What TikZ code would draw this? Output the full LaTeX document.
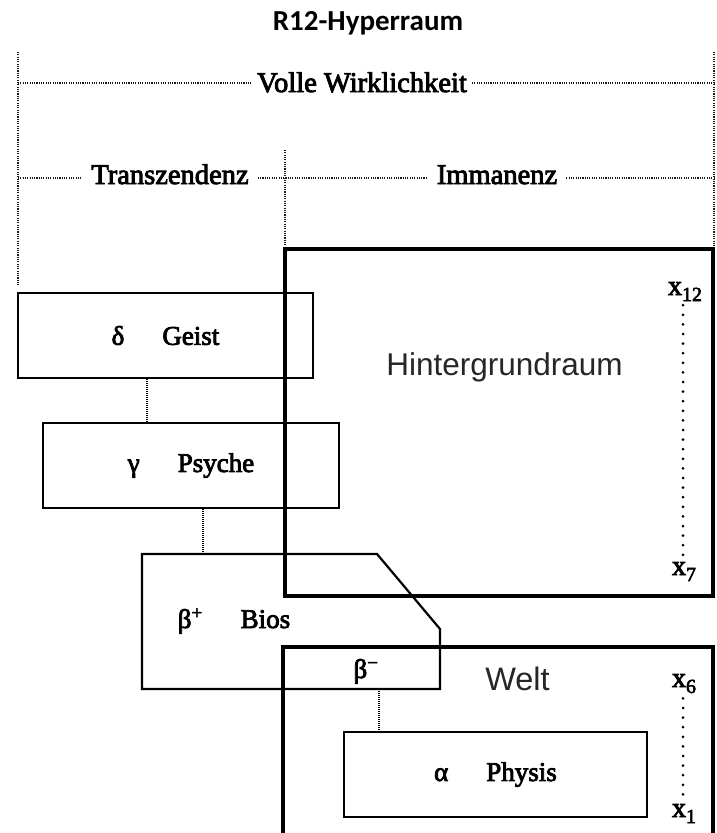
\documentclass[tikz,border=0pt]{standalone}
\usepackage{fontspec}
\setmainfont{Liberation Serif}
\newfontfamily\lbl{Liberation Serif}[FakeBold=3]
\newfontfamily\headfont{Carlito}
\newfontfamily\spacefont{Liberation Sans}
\newcommand{\gapsp}{\hspace{38pt}}
\newcommand{\sub}[1]{\raisebox{-6pt}{\fontsize{20}{20}\selectfont #1}}

\begin{document}
\begin{tikzpicture}[x=1pt,y=-1pt,
  frame/.style={draw, line width=3.4pt},
  boxline/.style={line width=2.2pt, line join=miter},
  stage/.style={draw, line width=2.2pt, inner sep=0pt,
    font=\lbl\fontsize{27}{27}\selectfont},
  dotline/.style={line width=1.6pt, black!90, dash pattern=on 1.1pt off 1.2pt},
  link/.style={line width=1.8pt, dash pattern=on 1pt off 1pt},
  axis/.style={line width=3pt, line cap=round, dash pattern=on 0pt off 9.6pt},
  lab/.style={font=\lbl\fontsize{28.5}{28.5}\selectfont, anchor=base, inner ysep=0pt, inner xsep=9pt},
  coordlab/.style={font=\lbl\fontsize{28}{28}\selectfont, anchor=base, inner sep=1pt},
  spacelab/.style={font=\spacefont\fontsize{31.5}{31.5}\selectfont, text=black!85, anchor=base, inner sep=0pt}
]
\useasboundingbox (0,0) rectangle (716,833);

% title
\node[font=\headfont\bfseries\fontsize{29}{29}\selectfont, anchor=base] (title) at (368,30) {R12-Hyperraum};

% upper dotted brackets
\coordinate (lt) at (18,52);   \coordinate (lb) at (18,285);
\coordinate (rt) at (714,52);  \coordinate (rb) at (714,249);
\coordinate (mt) at (285,150); \coordinate (mb) at (285,249);
\draw[dotline] (lt) -- (lb);
\draw[dotline] (rt) -- (rb);
\draw[dotline] (mt) -- (mb);

\node[lab, inner xsep=5pt] (volle) at (362,92) {Volle Wirklichkeit};
\coordinate (vl) at (18,83);
\coordinate (vr) at (714,83);
\draw[dotline] (vl) -- (vl -| volle.west);
\draw[dotline] (volle.east |- vr) -- (vr);

\node[lab] (trans) at (170,184) {Transzendenz};
\node[lab] (imman) at (497,184) {Immanenz};
\coordinate (tl) at (18,178);
\coordinate (tr) at (714,178);
\draw[dotline] (tl) -- (tl -| trans.west);
\draw[dotline] (trans.east |- tl) -- (tl -| imman.west);
\draw[dotline] (imman.east |- tr) -- (tr);

% background space (x7 ... x12)
\node[frame, minimum width=428pt, minimum height=347pt] (hinter) at (499,422.5) {};
\node[spacelab] (hlabel) at (504.5,375) {Hintergrundraum};
\node[coordlab] (x12) at (685,295) {x\sub{12}};
\node[coordlab] (x7) at (684,575) {x\sub{7}};
\draw[axis] (x12.south) ++(-2,3) coordinate (a12) -- (a12 |- x7.north);

% world (x1 ... x6)
\coordinate (w1) at (283,833);
\coordinate (w2) at (283,647);
\coordinate (w3) at (713,647);
\coordinate (w4) at (713,833);
\draw[line width=3.4pt] (w1) -- (w2) -- (w3) -- (w4);
\node[spacelab, font=\spacefont\fontsize{32.5}{32.5}\selectfont] (wlabel) at (517.5,690) {Welt};
\node[coordlab] (x6) at (684,687) {x\sub{6}};
\node[coordlab] (x1) at (684,817) {x\sub{1}};
\draw[axis] (x6.south) ++(-1,4) coordinate (a6) -- (a6 |- x1.north);

% stages
\node[stage, minimum width=295pt, minimum height=85pt] (geist) at (165.5,335.5) {δ\gapsp Geist};
\node[stage, minimum width=296pt, minimum height=85pt] (psyche) at (191,465.5) {γ\gapsp Psyche};
\node[stage, minimum width=303pt, minimum height=85pt] (physis) at (495.5,774.5) {α\gapsp Physis};

% bios block with cut corner
\coordinate (b1) at (142,554);
\coordinate (b2) at (377,554);
\coordinate (b3) at (440,629);
\coordinate (b4) at (440,689);
\coordinate (b5) at (142,689);
\draw[boxline] (b1) -- (b2) -- (b3) -- (b4) -- (b5) -- cycle;
\node[font=\lbl\fontsize{27}{27}\selectfont, anchor=base, inner sep=0pt] (bplus) at (234,628) {β\textsuperscript{+}\gapsp Bios};
\node[font=\lbl\fontsize{27}{27}\selectfont, anchor=base, inner sep=0pt] (bminus) at (366,678) {β\textsuperscript{−}};

% links between stages
\path (geist.south) ++(-18.5,0) coordinate (gp);
\draw[link] (gp) -- (gp |- psyche.north);
\path (psyche.south) ++(12,0) coordinate (pb);
\draw[link] (pb) -- (pb |- b1);
\coordinate (bp) at (379,689);
\draw[link] (bp) -- (bp |- physis.north);
\end{tikzpicture}
\end{document}
